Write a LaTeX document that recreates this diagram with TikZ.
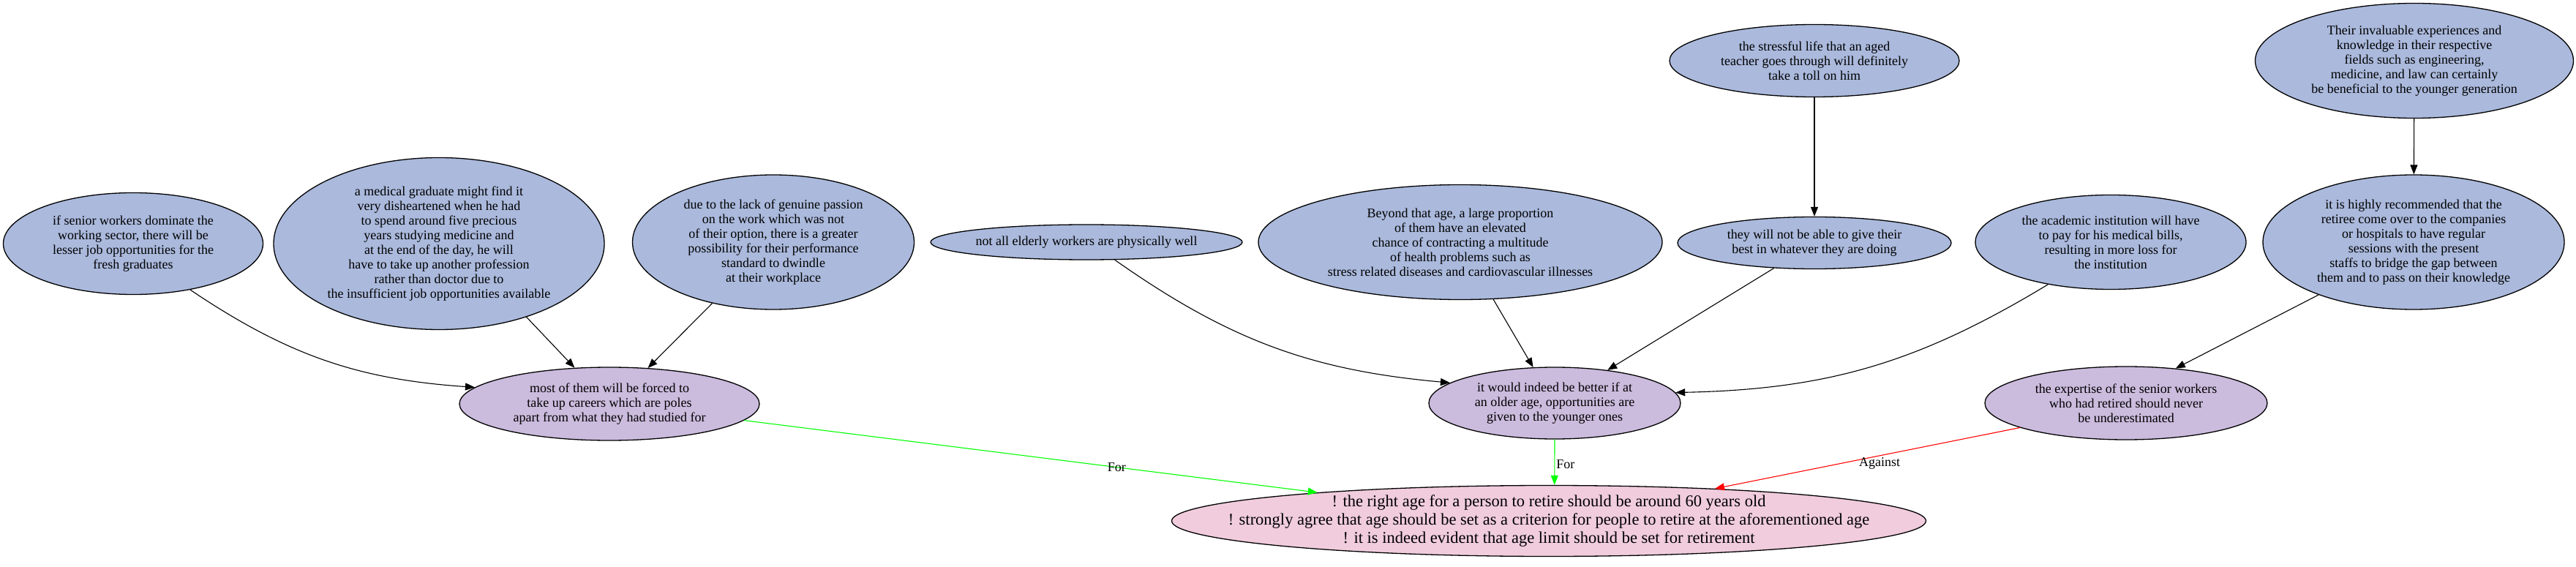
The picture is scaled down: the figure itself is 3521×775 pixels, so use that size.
\documentclass[tikz,border=0pt]{standalone}
\usepackage{fontspec}
\setmainfont{Liberation Serif}
\usetikzlibrary{shapes.geometric,arrows.meta}
\definecolor{argblue}{HTML}{AAB9DC}
\definecolor{subpurple}{HTML}{CBBBDD}
\definecolor{claimpink}{HTML}{F0CCDD}

\begin{document}
\begin{tikzpicture}[x=1pt,y=-1pt,
  arg/.style = {ellipse,draw=black,line width=1.3pt,fill=argblue,inner sep=0pt,align=center,font=\fontsize{18}{20}\selectfont},
  sub/.style = {arg,fill=subpurple},
  claim/.style = {arg,fill=claimpink,font=\fontsize{22.5}{25}\selectfont},
  link/.style = {line width=1.1pt,-{Triangle[length=13pt,width=10pt]}},
  lab/.style = {font=\fontsize{18}{20}\selectfont,text=black,inner sep=2pt}]
\useasboundingbox (0,0) rectangle (3521,775);

\node[arg,minimum width=355pt,minimum height=139pt] (fresh) at (182,333) {if senior workers dominate the\\working sector, there will be\\lesser job opportunities for the\\fresh graduates};
\node[arg,minimum width=452pt,minimum height=235pt] (medical) at (600,333) {a medical graduate might find it\\very disheartened when he had\\to spend around five precious\\years studying medicine and\\at the end of the day, he will\\have to take up another profession\\rather than doctor due to\\the insufficient job opportunities available};
\node[arg,minimum width=385pt,minimum height=184pt] (passion) at (1057,331) {due to the lack of genuine passion\\on the work which was not\\of their option, there is a greater\\possibility for their performance\\standard to dwindle\\at their workplace};
\node[arg,minimum width=426pt,minimum height=48pt,inner xsep=-10pt] (unwell) at (1485,331) {not all elderly workers are physically well};
\node[arg,minimum width=552pt,minimum height=157pt] (health) at (1996,331) {Beyond that age, a large proportion\\of them have an elevated\\chance of contracting a multitude\\of health problems such as\\stress related diseases and cardiovascular illnesses};
\node[arg,minimum width=396pt,minimum height=99pt] (stress) at (2480,83) {the stressful life that an aged\\teacher goes through will definitely\\take a toll on him};
\node[arg,minimum width=374pt,minimum height=71pt] (notbest) at (2480,332) {they will not be able to give their\\best in whatever they are doing};
\node[arg,minimum width=370pt,minimum height=129pt] (bills) at (2885,331) {the academic institution will have\\to pay for his medical bills,\\resulting in more loss for\\the institution};
\node[arg,minimum width=435pt,minimum height=157pt] (experience) at (3300,83) {Their invaluable experiences and\\knowledge in their respective\\fields such as engineering,\\medicine, and law can certainly\\be beneficial to the younger generation};
\node[arg,minimum width=412pt,minimum height=184pt] (mentor) at (3299,331) {it is highly recommended that the\\retiree come over to the companies\\or hospitals to have regular\\sessions with the present\\staffs to bridge the gap between\\them and to pass on their knowledge};

\node[sub,minimum width=410pt,minimum height=100pt] (careers) at (833,552) {most of them will be forced to\\take up careers which are poles\\apart from what they had studied for};
\node[sub,minimum width=344pt,minimum height=98pt] (younger) at (2125,551) {it would indeed be better if at\\an older age, opportunities are\\given to the younger ones};
\node[sub,minimum width=386pt,minimum height=100pt] (expertise) at (2906,551) {the expertise of the senior workers\\who had retired should never\\be underestimated};

\node[claim,minimum width=1031pt,minimum height=97pt,inner xsep=-120pt,inner ysep=-10pt] (retire) at (2117,712) {! the right age for a person to retire should be around 60 years old\\! strongly agree that age should be set as a criterion for people to retire at the aforementioned age\\! it is indeed evident that age limit should be set for retirement};

\draw[link] (fresh.-39) to[bend right=15] (careers.173);
\draw[link] (medical.-40) -- (careers.134);
\draw[link] (passion.-135) -- (careers.43);
\draw[link] (unwell.-32) to[bend right=15] (younger.169);
\draw[link] (health.-60) -- (younger.121);
\draw[link] (notbest.-148) -- (younger.32);
\draw[link] (bills.-146) to[bend left=15] (younger.5);
\draw[link] (stress) -- (notbest);
\draw[link] (experience) -- (mentor);
\draw[link] (mentor.-151) -- (expertise.35);
\draw[link,green] (careers.-7) -- node[lab,pos=.65] {For} (retire.173);
\draw[link,green] (younger.south) -- node[lab,pos=.55,right] {For} (retire.81);
\draw[link,red] (expertise.-167) -- node[lab,pos=.46,below] {Against} (retire.11);
\end{tikzpicture}
\end{document}
